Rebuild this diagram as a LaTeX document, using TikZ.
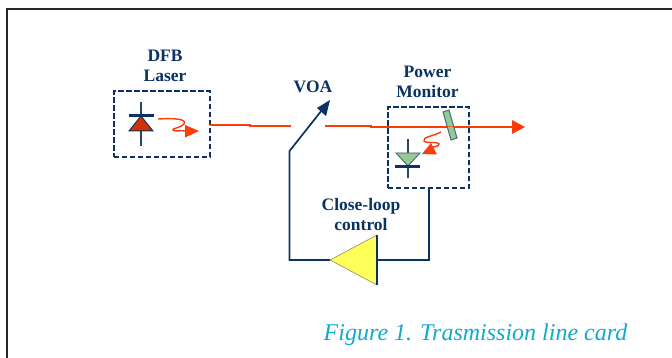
\documentclass[tikz,border=0pt]{standalone}
\usepackage{fontspec}
\setmainfont{Liberation Serif}
\usetikzlibrary{arrows.meta,calc}
\definecolor{navy}{RGB}{10,50,100}
\definecolor{redl}{RGB}{250,60,10}
\definecolor{dred}{RGB}{210,50,0}
\definecolor{lgreen}{RGB}{150,200,150}
\definecolor{cyantxt}{RGB}{15,170,205}
\definecolor{yel}{RGB}{255,255,90}
\tikzset{
 lbl/.style={font=\fontsize{17.5}{20}\selectfont\bfseries,text=navy,align=center,inner sep=0pt},
 dbox/.style={draw=navy,line width=2pt,dash pattern=on 5.2pt off 2.8pt,inner sep=0pt,outer sep=0pt},
 wire/.style={draw=navy,line width=1.7pt},
 beam/.style={draw=redl,line width=1.5pt},
 pin/.style={draw=navy!75!gray,line width=1.5pt},
 bar/.style={draw=navy,line width=2.6pt},
 tip/.style={fill=redl,draw=none},
 squig/.style={draw=redl,line width=1.4pt}
}
\begin{document}
\begin{tikzpicture}[x=1pt,y=-1pt]
\useasboundingbox (0,0) rectangle (672,358);
% frame
\coordinate (fa) at (7,358);\coordinate (fb) at (7,9);\coordinate (fc) at (672,9);
\draw[draw=black!85,line width=2pt] (fa) -- (fb) -- (fc);
% labels
\node[lbl] (dfb) at (165,65.5) {DFB\\Laser};
\node[lbl] (voa) at (313,87) {VOA};
\node[lbl] (pm) at (427.5,81.5) {Power\\Monitor};
\node[lbl] (cl) at (361,215) {Close-loop\\control};
\node[font=\fontsize{24}{26}\selectfont\itshape,text=cyantxt,inner sep=0pt] (cap) at (475.5,335) {Figure 1. Trasmission line card};
% dashed boxes
\node[dbox,minimum width=96pt,minimum height=66pt] (bl) at (161.5,124.5) {};
\node[dbox,minimum width=81pt,minimum height=81pt] (bm) at (428,148) {};
% laser diode
\coordinate (lt) at (141,102);\coordinate (lb) at (141,146);
\draw[pin] (lt) -- (lb);
\coordinate (la) at (141,116);\coordinate (lc) at (129,131);\coordinate (ld) at (153,131);
\filldraw[draw=navy,fill=dred,line width=1pt] (la) -- (lc) -- (ld) -- cycle;
\coordinate (l1) at (129,115.5);\coordinate (l2) at (154,115.5);
\draw[bar] (l1) -- (l2);
% laser squiggle and tip
\coordinate (s0) at (158,119);
\draw[squig] (s0) .. controls (175,118) and (187,119) .. (184,124) .. controls (181,128) and (172,128) .. (173,130) .. controls (175,132) and (181,130) .. (185,131);
\coordinate (t1) at (185,125);\coordinate (t2) at (185,137.5);\coordinate (t3) at (199,131);
\fill[tip] (t1) -- (t2) -- (t3) -- cycle;
% beam 1
\coordinate (b1) at (210,125);\coordinate (b2) at (250,125);\coordinate (b3) at (250,126);\coordinate (b4) at (291,126);
\draw[beam] (b1) -- (b2) -- (b3) -- (b4);
% beam 2
\coordinate (c1) at (325,126);\coordinate (c2) at (371,126);\coordinate (c3) at (371,127);\coordinate (c4) at (512,127);
\draw[beam] (c1) -- (c2) -- (c3) -- (c4);
\coordinate (c5) at (512,120);\coordinate (c6) at (512,134);\coordinate (c7) at (525,127);
\fill[tip] (c5) -- (c6) -- (c7) -- cycle;
% mirror
\coordinate (m1) at (443,112);\coordinate (m2) at (449,110);\coordinate (m3) at (457,138);\coordinate (m4) at (451,140);
\filldraw[draw=navy!60!lgreen,fill=lgreen,line width=1pt] (m1) -- (m2) -- (m3) -- (m4) -- cycle;
\draw[draw=redl,line width=1pt,opacity=.6] (c3) -- (c4);
% monitor diode
\coordinate (pt1) at (408,139);\coordinate (pb1) at (408,178);
\draw[pin] (pt1) -- (pb1);
\coordinate (pa) at (396,153);\coordinate (pc) at (420,153);\coordinate (pd) at (408,166);
\filldraw[draw=navy!70!lgreen,fill=lgreen,line width=.8pt] (pa) -- (pc) -- (pd) -- cycle;
\coordinate (p1) at (395,166.5);\coordinate (p2) at (420,166.5);
\draw[bar] (p1) -- (p2);
% monitor squiggle
\coordinate (q0) at (441,132);
\draw[squig] (q0) .. controls (434,136) and (422,137) .. (424,141) .. controls (426,144) and (438,141) .. (439,144) .. controls (439,147) and (434,146) .. (431,148);
\coordinate (r1) at (422,154);\coordinate (r2) at (437,154.5);\coordinate (r3) at (431,143);
\fill[tip] (r1) -- (r2) -- (r3) -- cycle;
% VOA
\coordinate (v0) at (289.5,260);\coordinate (v1) at (289.5,151);\coordinate (v2) at (322,110);
\coordinate (amp) at (330,260);
\draw[wire] (amp) -- (v0) -- (v1) -- (v2);
\coordinate (v3) at (317,108);\coordinate (v4) at (326,116);\coordinate (v5) at (330,100);
\fill[navy] (v3) -- (v5) -- (v4) -- cycle;
% loop and amplifier
\coordinate (a1) at (377,260);\coordinate (a2) at (429,260);
\draw[wire] (bm.south -| a2) -- (a2) -- (a1);
\coordinate (at) at (377,235);\coordinate (ab) at (377,285);
\fill[yel,draw=gray!70!olive,line width=.6pt] (amp) -- (at) -- (ab) -- cycle;
\draw[draw=navy,line width=1.9pt] (at) -- (ab);
\end{tikzpicture}
\end{document}
